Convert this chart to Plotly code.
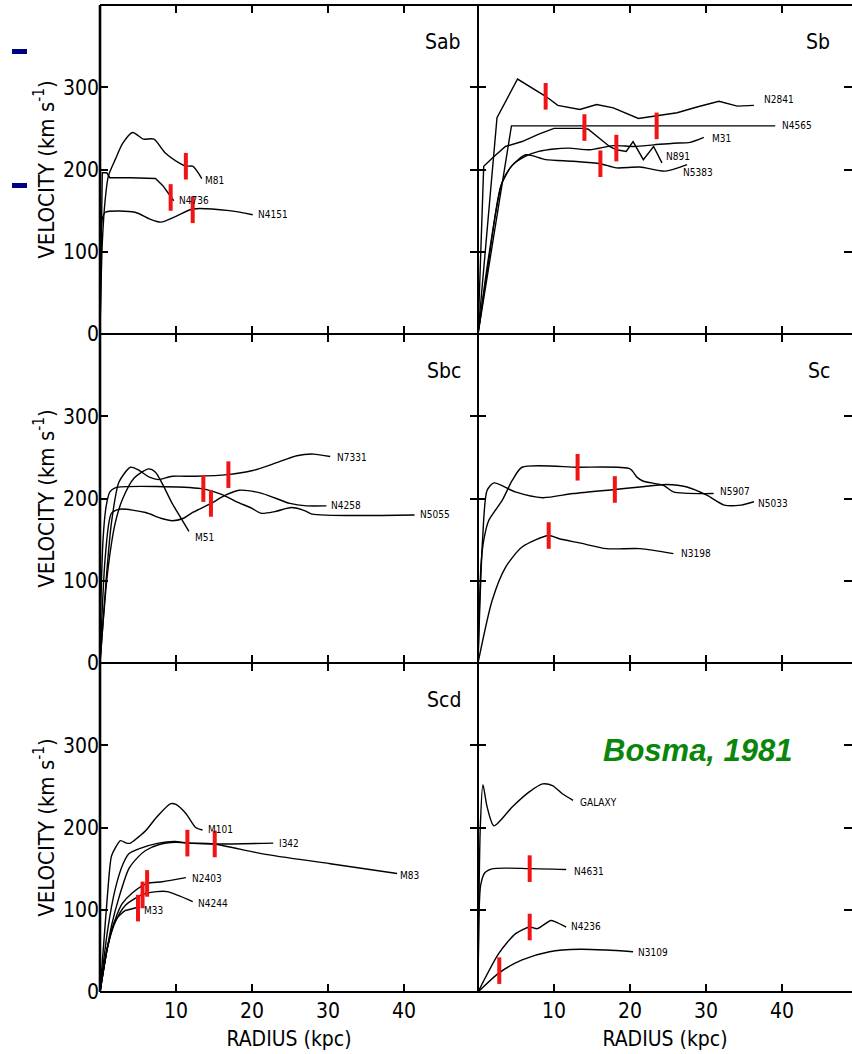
import plotly.graph_objects as go
from plotly.subplots import make_subplots

# ---------------- data (radius kpc, velocity km/s) ----------------
# Sab
M81_R = [0, 0.3, 0.7, 1.1, 2.0, 3.0, 4.3, 5.7, 7.1, 8.6, 10.4, 11.3, 12.2, 13.4]
M81_V = [0, 110, 165, 192, 212, 232, 245, 237, 237, 220, 208, 204, 204, 189]
N4736_R = [0, 0.3, 0.9, 1.3, 4.0, 7.3, 8.3, 9.3, 9.7]
N4736_V = [0, 196, 196, 190, 190, 189, 180, 166, 162]
N4151_R = [0, 0.3, 0.7, 4.6, 6.5, 8.0, 10.0, 12.2, 17.0, 20.1]
N4151_V = [0, 140, 148, 148, 140, 136, 143, 152, 150, 145]
# Sb
N2841_R = [0, 2.5, 5.2, 8.9, 10.5, 13.4, 15.6, 17.8, 21.1, 23.5, 26.2, 28.8, 31.7, 34.1, 36.3]
N2841_V = [0, 263, 310, 289, 278, 273, 279, 275, 262, 265, 269, 276, 283, 277, 278]
N4565_R = [0, 4.4, 39.1]
N4565_V = [0, 253, 253]
N891_R = [0, 0.75, 2.0, 3.6, 5.8, 8.0, 10.0, 14.0, 14.5, 17.3, 18.2, 19.5, 20.4, 21.75, 23.1, 24.2]
N891_V = [0, 204, 215, 228, 234, 243, 250, 250, 249, 228, 224, 222, 234, 212, 228, 208]
M31_R = [0, 1.5, 3.0, 4.5, 6.2, 8.0, 10.0, 12.0, 14.7, 17.8, 20.5, 23.1, 25.7, 27.9, 29.7]
M31_V = [0, 95, 180, 205, 216, 222, 225, 226, 224, 229, 228, 230, 232, 233, 239]
N5383_R = [0, 1.5, 3.2, 4.5, 6.3, 8.9, 12.5, 16.1, 18.2, 21.3, 24.6, 27.5]
N5383_V = [0, 100, 185, 205, 218, 212, 210, 207, 202, 203, 198, 206]
# Sbc
N7331_R = [0, 0.8, 1.5, 2.5, 4.0, 5.0, 6.5, 7.7, 9.5, 12.6, 16.8, 20.1, 22.8, 25.9, 28.1, 30.3]
N7331_V = [0, 100, 170, 220, 238, 235, 226, 223, 227, 227, 229, 234, 242, 252, 254, 251]
M51_R = [0, 1.0, 2.0, 3.0, 4.5, 6.4, 7.3, 8.2, 9.5, 10.6, 11.7]
M51_V = [0, 110, 170, 200, 225, 236, 232, 218, 194, 177, 160]
N4258_R = [0, 0.7, 1.5, 2.6, 6.0, 8.0, 9.5, 11.0, 12.2, 14.6, 16.5, 18.3, 21.4, 25.0, 27.2, 29.8]
N4258_V = [0, 130, 182, 187, 183, 176, 173, 176, 183, 194, 204, 210, 206, 194, 191, 191]
N5055_R = [0, 0.4, 0.8, 1.3, 2.0, 13.3, 16.0, 18.0, 20.0, 21.2, 23.0, 25.2, 27.0, 27.9, 41.4]
N5055_V = [35, 150, 190, 208, 213, 212, 205, 196, 188, 182, 184, 189, 185, 181, 180]
# Sc
N5907_R = [0, 0.4, 0.75, 1.4, 3.2, 4.5, 5.8, 13.1, 20.0, 20.9, 21.75, 24.4, 25.7, 31.0]
N5907_V = [0, 120, 149, 173, 198, 222, 238, 238, 236, 226, 221, 216, 208, 206]
N5033_R = [0, 0.6, 1.2, 2.1, 4.9, 8.5, 12.5, 18.0, 21.3, 24.8, 27.5, 30.1, 32.4, 34.6, 36.3]
N5033_V = [0, 150, 210, 219, 208, 201, 206, 211, 214, 217, 214, 204, 192, 192, 196]
N3198_R = [0, 1.86, 3.6, 5.8, 9.3, 10.7, 13.35, 16.9, 21.3, 25.7]
N3198_V = [0, 76, 116, 141, 155, 151, 146, 139, 139, 133]
# Scd
M101_R = [0, 0.5, 1.0, 1.5, 2.0, 2.7, 3.5, 4.0, 5.0, 6.0, 7.5, 9.3, 10.0, 11.3, 12.6, 13.5]
M101_V = [0, 60, 120, 165, 175, 184, 181, 181, 188, 196, 213, 229, 228, 217, 200, 197]
I342_R = [0, 1.0, 2.0, 3.0, 3.8, 5.1, 7.7, 9.9, 11.5, 15.1, 22.8]
I342_V = [0, 75, 125, 155, 168, 174, 181, 183, 181, 180, 181]
M83_R = [0, 1.5, 2.5, 3.8, 5.0, 6.0, 7.7, 10.0, 12.0, 15.0, 21.4, 30.3, 39.1]
M83_V = [0, 80, 115, 150, 164, 172, 179, 182, 181, 180, 168, 156, 144]
N2403_R = [0, 1.0, 2.0, 2.9, 4.2, 6.2, 8.2, 11.3]
N2403_V = [0, 55, 88, 107, 120, 132, 134, 139]
N4244_R = [0, 1.0, 2.0, 3.3, 5.5, 7.5, 8.85, 12.2]
N4244_V = [0, 55, 85, 105, 118, 122, 122, 110]
M33_R = [0, 1.0, 2.0, 3.3, 3.75, 5.0]
M33_V = [0, 55, 87, 99, 100, 103]
# unlabeled panel
GALAXY_R = [0, 0.3, 0.65, 1.2, 2.1, 4.5, 6.7, 8.5, 9.8, 11.1, 12.5]
GALAXY_V = [0, 200, 252, 225, 202, 225, 243, 253, 251, 241, 233]
N4631_R = [0, 0.15, 0.35, 0.9, 2.0, 6.8, 11.6]
N4631_V = [0, 100, 130, 145, 150, 150, 149]
N4236_R = [0, 2.74, 4.95, 6.8, 7.8, 9.6, 10.25, 11.6]
N4236_V = [0, 47, 71, 79, 77, 87, 85, 79]
N3109_R = [0, 2.74, 5.8, 9.4, 13.4, 16.9, 20.4]
N3109_V = [0, 23, 39, 49, 52, 51, 49]

# red "Holmberg radius" bars per panel
SAB_BAR_R = [11.3, 9.3, 12.2]
SAB_BAR_V = [204, 166, 151]
SB_BAR_R = [8.9, 14.0, 18.2, 23.5, 16.1]
SB_BAR_V = [289, 251, 226, 253, 207]
SBC_BAR_R = [13.6, 14.6, 16.9]
SBC_BAR_V = [212, 194, 229]
SC_BAR_R = [13.1, 18.0, 9.3]
SC_BAR_V = [238, 211, 155]
SCD_BAR_R = [11.5, 15.1, 6.2, 5.6, 5.0]
SCD_BAR_V = [181, 180, 132, 118, 102]
LAST_BAR_R = [6.8, 6.8, 2.8]
LAST_BAR_V = [150, 79, 26]

PANEL_NAMES = ["Sab", "Sb", "Sbc", "Sc", "Scd", ""]
Y_TICKS = [0, 100, 200, 300]
X_TICKS = [10, 20, 30, 40]

# ---------------- panel composition ----------------
panels = [
    (1, 1, [("M81", M81_R, M81_V), ("N4736", N4736_R, N4736_V), ("N4151", N4151_R, N4151_V)],
     (SAB_BAR_R, SAB_BAR_V)),
    (1, 2, [("N2841", N2841_R, N2841_V), ("N4565", N4565_R, N4565_V), ("M31", M31_R, M31_V),
            ("N891", N891_R, N891_V), ("N5383", N5383_R, N5383_V)], (SB_BAR_R, SB_BAR_V)),
    (2, 1, [("N7331", N7331_R, N7331_V), ("M51", M51_R, M51_V), ("N4258", N4258_R, N4258_V),
            ("N5055", N5055_R, N5055_V)], (SBC_BAR_R, SBC_BAR_V)),
    (2, 2, [("N5907", N5907_R, N5907_V), ("N5033", N5033_R, N5033_V), ("N3198", N3198_R, N3198_V)],
     (SC_BAR_R, SC_BAR_V)),
    (3, 1, [("M101", M101_R, M101_V), ("I342", I342_R, I342_V), ("M83", M83_R, M83_V),
            ("N2403", N2403_R, N2403_V), ("N4244", N4244_R, N4244_V), ("M33", M33_R, M33_V)],
     (SCD_BAR_R, SCD_BAR_V)),
    (3, 2, [("GALAXY", GALAXY_R, GALAXY_V), ("N4631", N4631_R, N4631_V), ("N4236", N4236_R, N4236_V),
            ("N3109", N3109_R, N3109_V)], (LAST_BAR_R, LAST_BAR_V)),
]

# label placement (style/position, not data)
LABEL_POS = {
    "M81": (13.6, 187), "N4736": (10.1, 162), "N4151": (20.5, 145),
    "N2841": (37.3, 285), "N4565": (39.7, 253), "M31": (30.5, 238), "N891": (24.5, 216), "N5383": (26.7, 196),
    "N7331": (30.9, 250), "N4258": (30.2, 191), "N5055": (41.9, 180), "M51": (12.3, 153),
    "N5907": (31.6, 208), "N5033": (36.6, 193.5), "N3198": (26.5, 133),
    "M101": (14.0, 197), "I342": (23.3, 180), "M83": (39.2, 142), "N2403": (11.9, 138),
    "N4244": (12.6, 108), "M33": (5.5, 99),
    "GALAXY": (13.2, 231), "N4631": (12.3, 147), "N4236": (12.0, 80), "N3109": (20.8, 48),
}
LINEAR = {"N4565", "N2841", "N891", "N4736"}

FONT = "DejaVu Sans Condensed, Liberation Sans Narrow, DejaVu Sans, sans-serif"

fig = make_subplots(rows=3, cols=2, horizontal_spacing=0, vertical_spacing=0)

for row, col, curves, bars in panels:
    for name, r, v in curves:
        fig.add_trace(go.Scatter(
            x=r, y=v, mode="lines",
            line=dict(color="black", width=1.4,
                      shape="linear" if name in LINEAR else "spline", smoothing=0.7),
            hoverinfo="skip", showlegend=False), row=row, col=col)
        lx, ly = LABEL_POS[name]
        fig.add_annotation(x=lx, y=ly, text=name, showarrow=False, xanchor="left", yanchor="middle",
                           font=dict(family=FONT, size=10, color="black"), row=row, col=col)
    fig.add_trace(go.Scatter(
        x=bars[0], y=bars[1], mode="markers",
        marker=dict(symbol="line-ns", size=19, line=dict(color="#f01414", width=4)),
        hoverinfo="skip", showlegend=False), row=row, col=col)

# domains: plot area 752 x 987 px
X_SPLIT = 378 / 752
ROW_DOM = {1: [2 / 3, 1.0], 2: [1 / 3, 2 / 3], 3: [0.0, 1 / 3]}
X_RANGE = {1: [0, 49.75], 2: [0, 49.2]}

for row in (1, 2, 3):
    for col in (1, 2):
        xd = [0, X_SPLIT] if col == 1 else [X_SPLIT, 1.0]
        fig.update_xaxes(domain=xd, range=X_RANGE[col], tickvals=X_TICKS,
                         showticklabels=(row == 3), ticks="inside", ticklen=8, tickwidth=1.5,
                         tickcolor="black", showline=False, ticklabelstandoff=4,
                         mirror="ticks", showgrid=False, zeroline=False,
                         tickfont=dict(family=FONT, size=21, color="black"),
                         row=row, col=col)
        fig.update_yaxes(domain=ROW_DOM[row], range=[0, 400], tickvals=Y_TICKS,
                         showticklabels=(col == 1), ticks="inside", ticklen=8, tickwidth=1.5,
                         tickcolor="black", showline=False,
                         mirror="ticks", showgrid=False, zeroline=False,
                         tickfont=dict(family=FONT, size=21, color="black"),
                         row=row, col=col)
        if col == 1:
            fig.update_yaxes(title=dict(text="VELOCITY (km s<sup>-1</sup>)",
                                        font=dict(family=FONT, size=22, color="black"),
                                        standoff=2), row=row, col=col)
        if row == 3:
            fig.update_xaxes(title=dict(text="RADIUS (kpc)",
                                        font=dict(family=FONT, size=21, color="black"),
                                        standoff=9), row=row, col=col)

# frame lines (panel borders) in paper coordinates
FRAME_V = [(0.0, 2.6), (X_SPLIT, 2.0)]
FRAME_H = [(1.0, 2.0), (2 / 3, 2.0), (1 / 3, 2.0), (0.0, 2.0)]
for xv, w in FRAME_V:
    fig.add_shape(type="line", xref="paper", yref="paper", x0=xv, x1=xv, y0=0, y1=1,
                  line=dict(color="black", width=w), layer="above")
for yv, w in FRAME_H:
    fig.add_shape(type="line", xref="paper", yref="paper", x0=0, x1=1, y0=yv, y1=yv,
                  line=dict(color="black", width=w), layer="above")

# panel type labels
idx = 0
for row in (1, 2, 3):
    for col in (1, 2):
        name = PANEL_NAMES[idx]
        idx += 1
        if name:
            fig.add_annotation(x=47.8 if col == 1 else 46.6, y=355, text=name, showarrow=False,
                               xanchor="right", yanchor="middle",
                               font=dict(family=FONT, size=21, color="black"), row=row, col=col)

fig.add_annotation(x=(698 - 100) / 752, y=(992 - 750) / 987, xref="paper", yref="paper",
                   xanchor="center", yanchor="middle",
                   text="<b><i>Bosma, 1981</i></b>", showarrow=False,
                   font=dict(family="Liberation Sans, Arial, sans-serif", size=31, color="#0a870a"))

# slide bullet dashes
for yc in (51.5, 185.5):
    fig.add_shape(type="rect", xref="paper", yref="paper",
                  x0=(12 - 100) / 752, x1=(27 - 100) / 752,
                  y0=(992 - yc - 2.5) / 987, y1=(992 - yc + 2.5) / 987,
                  fillcolor="#000080", line=dict(width=0))

fig.update_layout(width=852, height=1054, margin=dict(l=100, r=0, t=5, b=62),
                  paper_bgcolor="white", plot_bgcolor="white", showlegend=False)

fig.write_html("out.html")
